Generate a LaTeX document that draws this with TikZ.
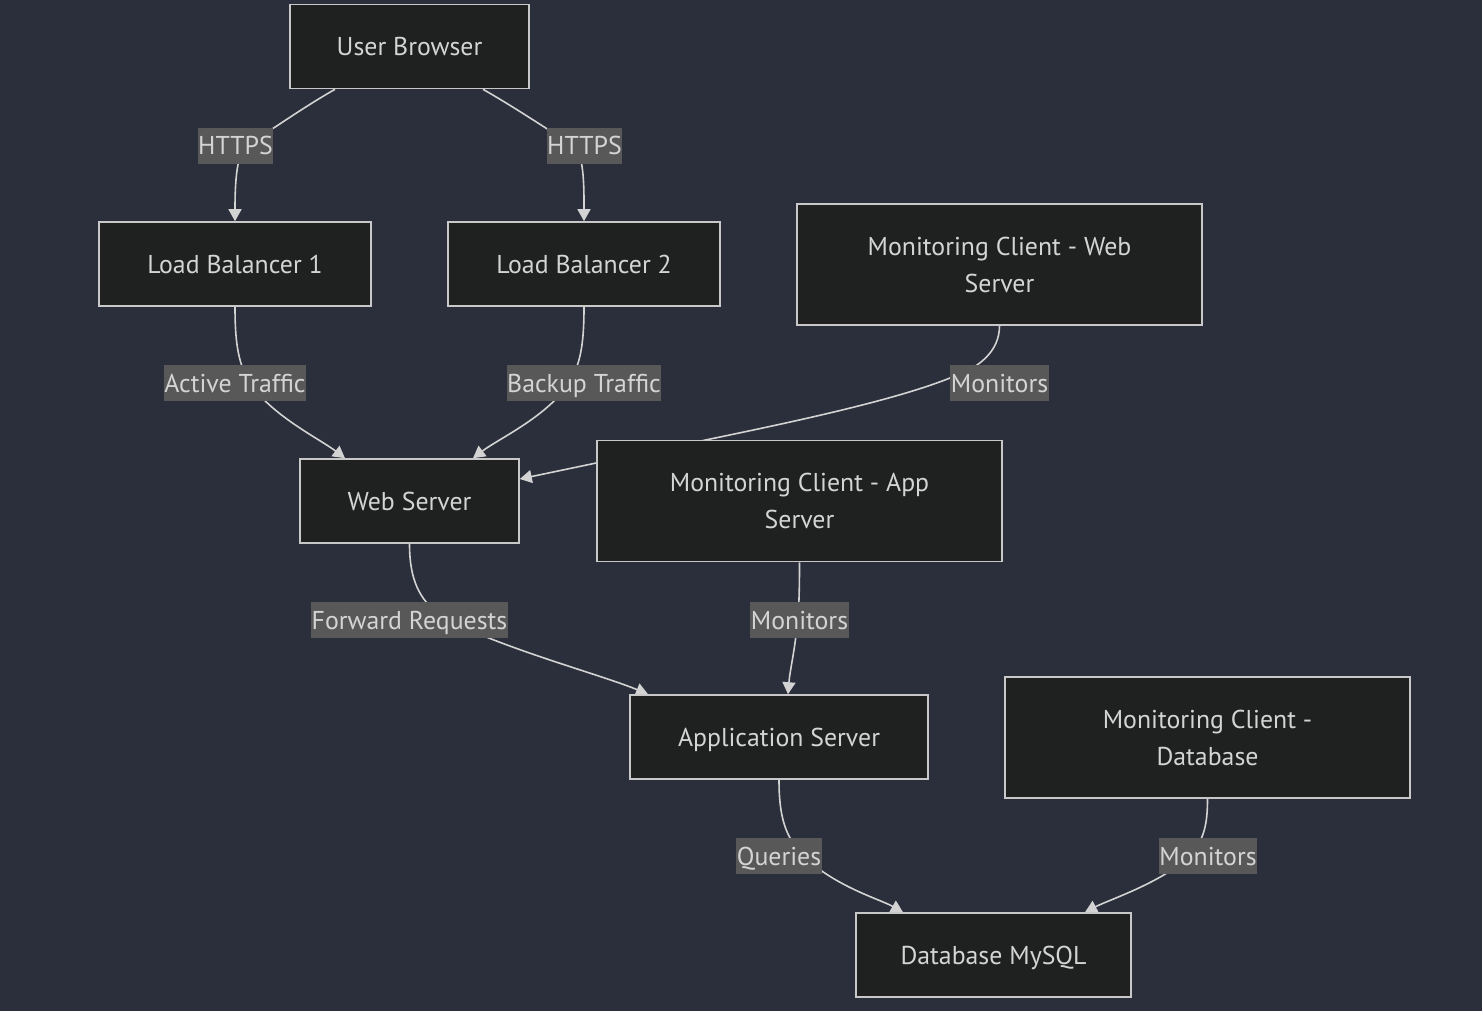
\documentclass[tikz,border=0pt]{standalone}
\usepackage{fontspec}
\setmainfont{PT Sans}
\usepackage{tikz}
\usetikzlibrary{arrows.meta, positioning, calc, backgrounds}

\definecolor{bgcol}{HTML}{2B2F3B}
\definecolor{boxfill}{HTML}{1F2020}
\definecolor{boxline}{HTML}{C8C8C8}
\definecolor{txtcol}{HTML}{D4D4D4}
\definecolor{lblfill}{HTML}{585858}
\definecolor{linecol}{HTML}{D3D3D3}

\begin{document}
\begin{tikzpicture}[
			x=1pt, y=-1pt,
			block/.style={rectangle, draw=boxline, line width=1.6pt, fill=boxfill, text=txtcol, minimum height=84pt, align=center, font=\fontsize{25.8}{37}\selectfont},
			oneline/.style={block, text height=18pt, text depth=0pt},
			lbl/.style={rectangle, fill=lblfill, text=txtcol, inner xsep=0.5pt, inner ysep=0pt, text height=27pt, text depth=9pt, font=\fontsize{25.8}{28}\selectfont},
			arr/.style={-{Triangle[length=12pt, width=13pt]}, draw=linecol, line width=1.6pt}
			]
			\useasboundingbox (0,0) rectangle (1482,1011);
			
			\node[oneline, minimum width=239pt] (ub) at (409.5,46.5) {User Browser};
			\node[oneline, minimum width=272pt] (lb1) at (235,264) {Load Balancer 1};
			\node[oneline, minimum width=272pt] (lb2) at (584,264) {Load Balancer 2};
			\node[block, minimum width=405pt, minimum height=121pt] (mw) at (999.5,264.5) {Monitoring Client - Web\\Server};
			\node[oneline, minimum width=219pt] (ws) at (409.5,501) {Web Server};
			\node[block, minimum width=405pt, minimum height=121pt] (ma) at (799.5,501) {Monitoring Client - App\\Server};
			\node[oneline, minimum width=298pt] (app) at (779,737) {Application Server};
			\node[block, minimum width=405pt, minimum height=121pt] (md) at (1207.5,737.5) {Monitoring Client -\\Database};
			\node[oneline, minimum width=275pt] (db) at (993.5,955) {Database MySQL};
			
			% edge labels
			\node[lbl] (l1) at (235.5,146) {HTTPS};
			\node[lbl] (l2) at (584.5,146) {HTTPS};
			\node[lbl] (l3) at (235,383) {Active Traffic};
			\node[lbl] (l4) at (584,383) {Backup Traffic};
			\node[lbl] (l5) at (999.5,383) {Monitors};
			\node[lbl] (l6) at (409.5,620) {Forward Requests};
			\node[lbl] (l7) at (799.5,620) {Monitors};
			\node[lbl] (l8) at (779,856) {Queries};
			\node[lbl] (l9) at (1208,856) {Monitors};
			
			\begin{scope}[on background layer]
			\fill[bgcol] (0,0) rectangle (1482,1011);
			% Browser -> balancers
			\draw[arr] ($(ub.south)+(-74.5,0)$) .. controls +(-35,20) and +(25,-15) .. ($(l1.center)+(10,0)$)
				.. controls +(-10,10) and +(0,-30) .. (lb1.north);
			\draw[arr] ($(ub.south)+(73.5,0)$) .. controls +(35,20) and +(-25,-15) .. ($(l2.center)+(-10,0)$)
				.. controls +(10,10) and +(0,-30) .. (lb2.north);
			% Balancers -> Web Server
			\draw[arr] (lb1.south) .. controls +(0,44) and +(-15,-20) .. ($(l3.center)+(20,7)$)
				.. controls +(25,30) and +(-25,-19) .. ($(ws.north)+(-64.5,0)$);
			\draw[arr] (lb2.south) .. controls +(0,44) and +(15,-20) .. ($(l4.center)+(-20,7)$)
				.. controls +(-24,30) and +(25,-19) .. ($(ws.north)+(63.5,0)$);
			% Monitoring web -> Web Server (runs behind the app monitor box)
			\draw[arr] (mw.south) .. controls +(0,25) and +(30,-10) .. ($(l5.center)+(-49.5,-5)$)
				.. controls +(-80,32) and +(103,-23) .. ($(ma.west)+(0,-38)$) -- ($(ws.east)+(0,-22)$);
			% Web Server -> Application Server
			\draw[arr] (ws.south) .. controls +(0,37) and +(-20,-15) .. ($(l6.center)+(30.5,-5)$)
				.. controls +(50,30) and +(-48,-20) .. ($(app.north)+(-131,0)$);
			% Monitoring app -> Application Server
			\draw[arr] (ma.south) .. controls +(0,28) and +(2,-15) .. ($(l7.center)+(-2.5,5)$)
				.. controls +(-2,25) and +(2,-25) .. ($(app.north)+(9,0)$);
			% Application Server -> Database
			\draw[arr] (app.south) .. controls +(0,36) and +(-15,-17) .. ($(l8.center)+(21,-4)$)
				.. controls +(30,33) and +(-23,-13) .. ($(db.north)+(-90.5,0)$);
			% Monitoring db -> Database
			\draw[arr] (md.south) .. controls +(0,22) and +(10,-15) .. ($(l9.center)+(-13,-6)$)
				.. controls +(-25,30) and +(25,-13) .. ($(db.north)+(91.5,0)$);
			\end{scope}
		\end{tikzpicture}
\end{document}
